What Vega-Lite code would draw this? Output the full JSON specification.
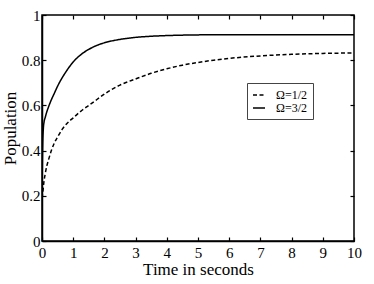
{
  "$schema": "https://vega.github.io/schema/vega-lite/v6.json",
  "width": 312,
  "height": 226,
  "autosize": {"type": "none"},
  "padding": {"left": 42, "top": 15, "right": 20, "bottom": 43},
  "background": "white",
  "config": {
    "font": "Liberation Serif",
    "view": {"stroke": "black", "strokeWidth": 1.5},
    "axis": {
      "domainColor": "black",
      "domainWidth": 1.5,
      "tickColor": "black",
      "tickWidth": 1.2,
      "tickSize": -4,
      "grid": false,
      "labelColor": "black",
      "labelFont": "Liberation Serif",
      "labelFontSize": 15,
      "titleFont": "Liberation Serif",
      "titleFontSize": 17,
      "titleFontWeight": "normal",
      "titleColor": "black"
    },
    "legend": {
      "labelFont": "Liberation Serif",
      "labelFontSize": 12,
      "labelColor": "black"
    }
  },
  "data": {
    "values": [
      {"t": 0, "p": 0.2, "s": "Ω=3/2"},
      {"t": 0.01, "p": 0.32, "s": "Ω=3/2"},
      {"t": 0.02, "p": 0.41, "s": "Ω=3/2"},
      {"t": 0.04, "p": 0.49, "s": "Ω=3/2"},
      {"t": 0.07, "p": 0.53, "s": "Ω=3/2"},
      {"t": 0.1, "p": 0.545, "s": "Ω=3/2"},
      {"t": 0.15, "p": 0.57, "s": "Ω=3/2"},
      {"t": 0.2, "p": 0.59, "s": "Ω=3/2"},
      {"t": 0.3, "p": 0.625, "s": "Ω=3/2"},
      {"t": 0.4, "p": 0.655, "s": "Ω=3/2"},
      {"t": 0.5, "p": 0.685, "s": "Ω=3/2"},
      {"t": 0.75, "p": 0.745, "s": "Ω=3/2"},
      {"t": 1, "p": 0.792, "s": "Ω=3/2"},
      {"t": 1.25, "p": 0.825, "s": "Ω=3/2"},
      {"t": 1.5, "p": 0.848, "s": "Ω=3/2"},
      {"t": 1.75, "p": 0.865, "s": "Ω=3/2"},
      {"t": 2, "p": 0.877, "s": "Ω=3/2"},
      {"t": 2.5, "p": 0.892, "s": "Ω=3/2"},
      {"t": 3, "p": 0.901, "s": "Ω=3/2"},
      {"t": 3.5, "p": 0.906, "s": "Ω=3/2"},
      {"t": 4, "p": 0.909, "s": "Ω=3/2"},
      {"t": 5, "p": 0.912, "s": "Ω=3/2"},
      {"t": 6, "p": 0.913, "s": "Ω=3/2"},
      {"t": 8, "p": 0.913, "s": "Ω=3/2"},
      {"t": 10, "p": 0.913, "s": "Ω=3/2"},
      {"t": 0, "p": 0.19, "s": "Ω=1/2"},
      {"t": 0.03, "p": 0.22, "s": "Ω=1/2"},
      {"t": 0.06, "p": 0.26, "s": "Ω=1/2"},
      {"t": 0.1, "p": 0.295, "s": "Ω=1/2"},
      {"t": 0.15, "p": 0.33, "s": "Ω=1/2"},
      {"t": 0.2, "p": 0.355, "s": "Ω=1/2"},
      {"t": 0.3, "p": 0.4, "s": "Ω=1/2"},
      {"t": 0.4, "p": 0.435, "s": "Ω=1/2"},
      {"t": 0.5, "p": 0.46, "s": "Ω=1/2"},
      {"t": 0.65, "p": 0.495, "s": "Ω=1/2"},
      {"t": 0.8, "p": 0.52, "s": "Ω=1/2"},
      {"t": 1, "p": 0.545, "s": "Ω=1/2"},
      {"t": 1.25, "p": 0.575, "s": "Ω=1/2"},
      {"t": 1.5, "p": 0.6, "s": "Ω=1/2"},
      {"t": 1.75, "p": 0.625, "s": "Ω=1/2"},
      {"t": 2, "p": 0.65, "s": "Ω=1/2"},
      {"t": 2.5, "p": 0.69, "s": "Ω=1/2"},
      {"t": 3, "p": 0.717, "s": "Ω=1/2"},
      {"t": 3.5, "p": 0.742, "s": "Ω=1/2"},
      {"t": 4, "p": 0.762, "s": "Ω=1/2"},
      {"t": 4.5, "p": 0.778, "s": "Ω=1/2"},
      {"t": 5, "p": 0.79, "s": "Ω=1/2"},
      {"t": 5.5, "p": 0.8, "s": "Ω=1/2"},
      {"t": 6, "p": 0.808, "s": "Ω=1/2"},
      {"t": 7, "p": 0.819, "s": "Ω=1/2"},
      {"t": 8, "p": 0.826, "s": "Ω=1/2"},
      {"t": 9, "p": 0.83, "s": "Ω=1/2"},
      {"t": 10, "p": 0.832, "s": "Ω=1/2"}
    ]
  },
  "layer": [
    {
      "mark": {"type": "line", "color": "black", "strokeWidth": 1.5, "interpolate": "monotone", "clip": true},
      "encoding": {
        "x": {
          "field": "t", "type": "quantitative",
          "scale": {"domain": [0, 10], "nice": false},
          "axis": {"title": "Time in seconds", "values": [0,1,2,3,4,5,6,7,8,9,10], "labelPadding": 8, "titlePadding": 1, "labelFlush": false, "labelFont": "Liberation Serif", "labelFontSize": 15, "titleFont": "Liberation Serif", "titleFontSize": 17}
        },
        "y": {
          "field": "p", "type": "quantitative",
          "scale": {"domain": [0, 1], "nice": false},
          "axis": {"title": "Population", "values": [0,0.2,0.4,0.6,0.8,1], "format": "~g", "labelPadding": 6, "titlePadding": 2, "labelFlush": false, "labelFont": "Liberation Serif", "labelFontSize": 15, "titleFont": "Liberation Serif", "titleFontSize": 17}
        },
        "strokeDash": {
          "field": "s", "type": "nominal",
          "scale": {"domain": ["Ω=1/2", "Ω=3/2"], "range": [[4, 2.5], [1, 0]]},
          "legend": {
            "title": null,
            "orient": "none",
            "legendX": 205,
            "legendY": 68,
            "symbolType": "stroke",
            "symbolSize": 144,
            "symbolStrokeWidth": 1.5,
            "symbolStrokeColor": "black",
            "strokeColor": "#444",
            "padding": 5,
            "rowPadding": -2,
            "labelOffset": 10,
            "labelFont": "Liberation Serif",
            "labelFontSize": 12,
            "fillColor": "white"
          }
        }
      }
    },
    {
      "mark": {"type": "line", "opacity": 0},
      "encoding": {
        "x": {
          "field": "t", "type": "quantitative",
          "scale": {"domain": [0, 10], "nice": false},
          "axis": {"orient": "top", "title": null, "labels": false, "values": [0,1,2,3,4,5,6,7,8,9,10], "domain": false}
        },
        "y": {
          "field": "p", "type": "quantitative",
          "scale": {"domain": [0, 1], "nice": false},
          "axis": {"orient": "right", "title": null, "labels": false, "values": [0,0.2,0.4,0.6,0.8,1], "domain": false}
        }
      }
    }
  ],
  "resolve": {"axis": {"x": "independent", "y": "independent"}}
}
